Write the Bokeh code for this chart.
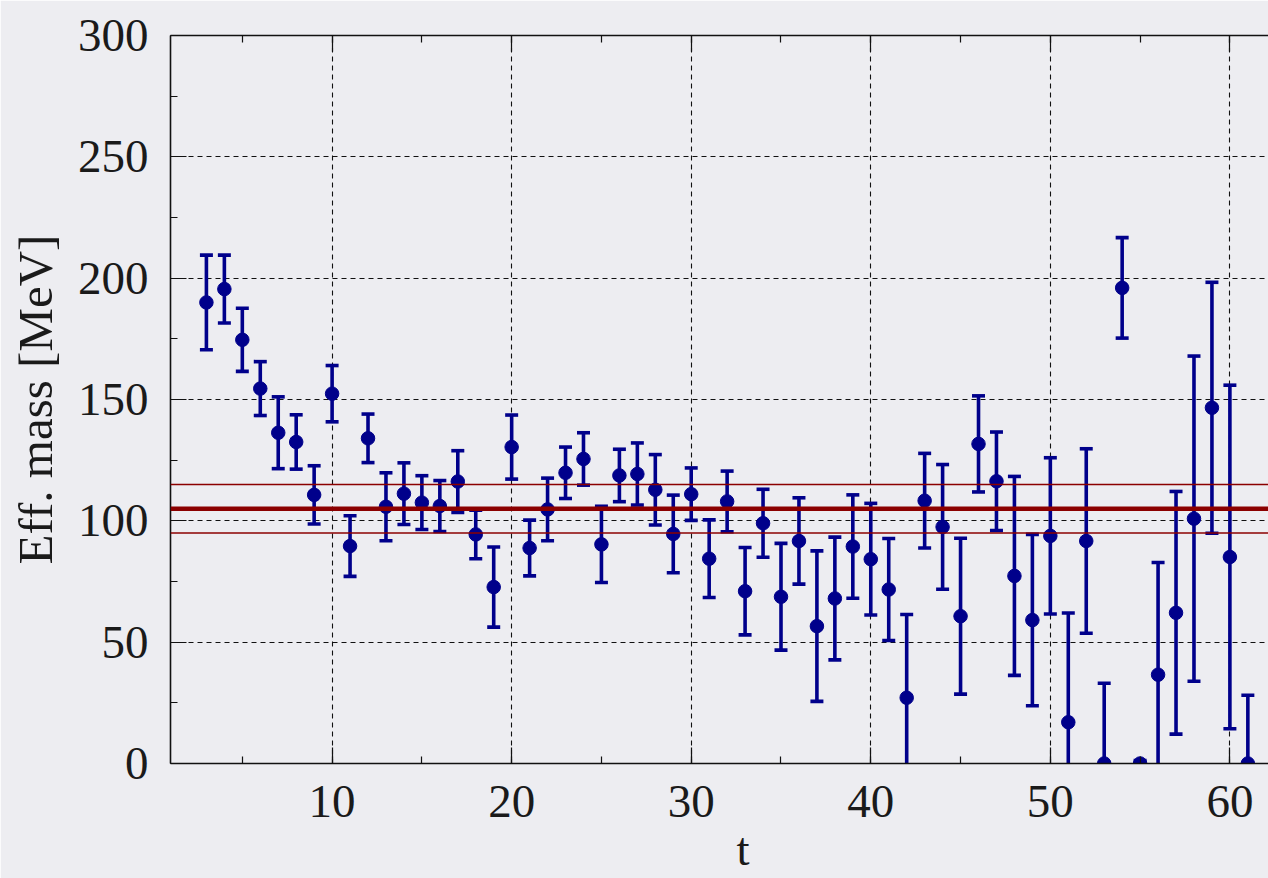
from bokeh.plotting import figure
from bokeh.models import (ColumnDataSource, LinearAxis, SingleIntervalTicker,
                          Span, Range1d, CustomJSTickFormatter)
from bokeh.embed import file_html
from bokeh.resources import INLINE

# Effective mass per time slice with its statistical error
t_slices = list(range(3, 62))
eff_mass = [190.0, 195.5, 174.6, 154.5, 136.3, 132.5, 110.7, 152.4, 89.6, 134.0,
            105.8, 111.2, 107.5, 106.1, 116.2, 94.4, 72.7, 130.4, 88.8, 104.7,
            119.8, 125.5, 90.3, 118.7, 119.3, 112.8, 94.6, 111.0, 84.4, 108.0,
            71.0, 99.0, 68.7, 91.7, 56.6, 68.0, 89.4, 84.2, 71.7, 27.1,
            108.3, 97.5, 60.7, 131.7, 116.3, 77.3, 59.1, 93.8, 17.0, 91.7,
            0.0, 196.0, 0.0, 36.6, 62.1, 100.9, 146.6, 85.1, 0.0]
eff_err = [19.5, 14.0, 13.0, 11.1, 14.8, 11.2, 12.0, 11.6, 12.5, 10.0,
           14.0, 12.7, 11.1, 10.5, 12.7, 10.0, 16.5, 13.2, 11.5, 12.9,
           10.6, 10.8, 15.7, 10.8, 12.8, 14.5, 16.0, 10.8, 16.0, 12.5,
           18.0, 14.0, 22.0, 17.8, 31.0, 25.3, 21.3, 23.0, 21.0, 34.3,
           19.5, 25.7, 32.1, 19.8, 20.3, 41.0, 35.3, 32.2, 45.0, 38.0,
           33.1, 20.7, 1.2, 46.2, 50.0, 67.0, 51.7, 70.8, 28.1]

# Fitted plateau and its error band
plateau_mass = 105.0
plateau_err = 10.0

y_ticks_step = 50
x_ticks_step = 10

BG = "#ededf1"
BLUE = "#00008b"
RED = "#8b0000"
INK = "#1a1a1a"
FONT = "Liberation Serif"

src = ColumnDataSource(dict(
    t=t_slices,
    m=eff_mass,
    lo=[m - e for m, e in zip(eff_mass, eff_err)],
    hi=[m + e for m, e in zip(eff_mass, eff_err)],
))

p = figure(width=1268, height=878, output_backend="svg", toolbar_location=None,
           x_range=Range1d(1.0, 62.15), y_range=Range1d(0, 300),
           x_axis_location=None, y_axis_location=None,
           min_border_left=170, min_border_right=0, min_border_top=35,
           min_border_bottom=115)
p.background_fill_color = BG
p.border_fill_color = BG
p.outline_line_color = None


def style_axis(ax):
    ax.axis_line_color = "#111111"
    ax.axis_line_width = 1.6
    ax.major_tick_in = 16
    ax.major_tick_out = 0
    ax.minor_tick_in = 7
    ax.minor_tick_out = 0
    ax.major_tick_line_color = "#111111"
    ax.minor_tick_line_color = "#111111"
    ax.major_tick_line_width = 1.2
    ax.minor_tick_line_width = 1.2
    ax.major_label_text_font = FONT
    ax.major_label_text_font_size = "47px"
    ax.major_label_text_color = INK
    ax.major_label_standoff = 22


xt = SingleIntervalTicker(interval=x_ticks_step, num_minor_ticks=2)
yt = SingleIntervalTicker(interval=y_ticks_step, num_minor_ticks=2)

xb = LinearAxis(ticker=xt, axis_label="\u2003t")
style_axis(xb)
xb.axis_label_text_font = FONT
xb.axis_label_text_font_style = "normal"
xb.axis_label_text_font_size = "47px"
xb.axis_label_text_color = INK
xb.axis_label_text_line_height = 0.5
xb.axis_label_standoff = 3
p.add_layout(xb, "below")

# top edge of the frame: ticks only
xa = LinearAxis(ticker=xt, formatter=CustomJSTickFormatter(code="return ''"))
style_axis(xa)
xa.major_label_standoff = 0
p.add_layout(xa, "above")

yl = LinearAxis(ticker=yt, axis_label="Eff. mass [MeV]")
style_axis(yl)
yl.axis_label_text_font = FONT
yl.axis_label_text_font_style = "normal"
yl.axis_label_text_font_size = "49px"
yl.axis_label_text_color = INK
yl.axis_label_standoff = 12
p.add_layout(yl, "left")

# dashed grid at the major ticks
p.xgrid.ticker = xt
p.ygrid.ticker = yt
for g in (p.xgrid, p.ygrid):
    g.grid_line_color = "#111111"
    g.grid_line_width = 1.1
    g.grid_line_dash = "5 4"

# plateau fit with its error band
p.add_layout(Span(location=plateau_mass, dimension="width",
                  line_color=RED, line_width=4.5))
for edge in (plateau_mass - plateau_err, plateau_mass + plateau_err):
    p.add_layout(Span(location=edge, dimension="width",
                      line_color=RED, line_width=1.4))

# error bars with caps, then the points
p.segment(x0="t", y0="lo", x1="t", y1="hi", source=src,
          line_color=BLUE, line_width=3.6)
p.scatter(x="t", y="lo", source=src, marker="dash", size=13,
          line_color=BLUE, line_width=3.6)
p.scatter(x="t", y="hi", source=src, marker="dash", size=13,
          line_color=BLUE, line_width=3.6)
p.scatter(x="t", y="m", source=src, marker="circle", size=13.5,
          fill_color=BLUE, line_color=BLUE)

open("out.html", "w").write(file_html(p, INLINE))
